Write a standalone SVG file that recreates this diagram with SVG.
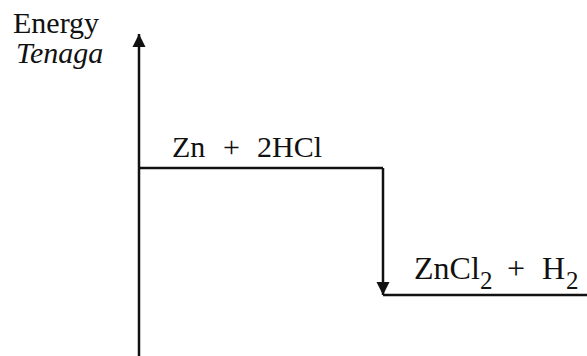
<svg xmlns="http://www.w3.org/2000/svg" width="587" height="356" viewBox="0 0 587 356">
<defs>
<style>
text{font-family:'Liberation Serif','Times New Roman',Times,serif;font-size:30px;fill:#111}
.p{font-size:32px}
.s{font-size:25px}
.ln{stroke:#111;stroke-width:2.5;fill:none}
</style>
<marker id="ah" viewBox="0 0 10 10" refX="10" refY="5" markerWidth="13" markerHeight="19" markerUnits="userSpaceOnUse" orient="auto">
<path d="M0,0 L10,5 L0,10 Z" fill="#111"/>
</marker>
</defs>
<rect width="587" height="356" fill="#fff"/>
<g id="axis-label">
<text x="13" y="33">Energy</text>
<text x="16" y="63" font-style="italic">Tenaga</text>
</g>
<g id="connectors">
<line class="ln" x1="139" y1="356" x2="139" y2="34" marker-end="url(#ah)"/>
<line class="ln" x1="383" y1="168" x2="383" y2="295" marker-end="url(#ah)"/>
</g>
<g id="reactants">
<polyline class="ln" points="139,168 383,168"/>
<text x="172" y="157">Zn</text>
<text x="223" y="157">+</text>
<text x="257" y="157">2HCl</text>
</g>
<g id="products">
<polyline class="ln" points="383,295 587,295"/>
<text class="p" x="414" y="279">ZnCl</text>
<text class="s" x="480" y="289">2</text>
<text class="p" x="507" y="279">+</text>
<text class="p" x="542" y="279">H</text>
<text class="s" x="566" y="289">2</text>
</g>
</svg>
